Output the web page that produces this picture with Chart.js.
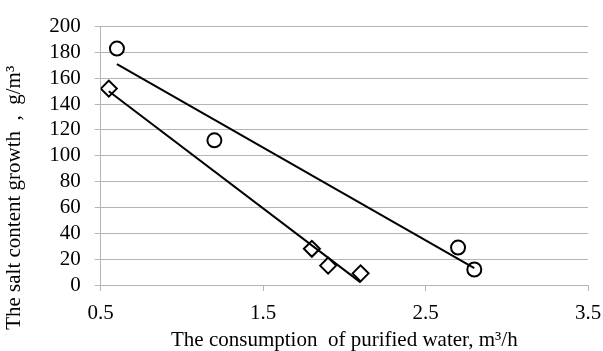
<!DOCTYPE html>
<html>
<head>
<meta charset="utf-8">
<script src="https://cdn.jsdelivr.net/npm/chart.js@4/dist/chart.umd.min.js"></script>
<style>
  body { margin: 0; background: #fff; }
  #wrap { width: 603px; height: 351px; }
</style>
</head>
<body>
<div id="wrap"><canvas id="chartSal"></canvas></div>
<script>
// Valores
const circuloX = [0.6, 1.2, 2.7, 2.8];
const circuloY = [183, 112, 29, 12];
const losangoX = [0.55, 1.8, 1.9, 2.1];
const losangoY = [152, 28, 15, 9];

// Linhas de tendência (extremos)
const tendCirculoX = [0.6, 2.8];
const tendCirculoY = [171, 13];
const tendLosangoX = [0.55, 2.1];
const tendLosangoY = [150, 2];

const xTicks = [0.5, 1.5, 2.5, 3.5];
const yMin = 0, yMax = 200, yStep = 20;

function pares(xs, ys) {
  return xs.map(function(x, i) { return { x: x, y: ys[i] }; });
}

const fonte = 'Liberation Serif, Times New Roman, serif';
const cinza = '#b4b4b4';

new Chart(document.getElementById('chartSal'), {
  type: 'scatter',
  data: {
    datasets: [
      {
        data: pares(tendCirculoX, tendCirculoY),
        showLine: true,
        borderColor: '#000',
        borderWidth: 2,
        pointRadius: 0
      },
      {
        data: pares(tendLosangoX, tendLosangoY),
        showLine: true,
        borderColor: '#000',
        borderWidth: 2,
        pointRadius: 0
      },
      {
        data: pares(circuloX, circuloY),
        pointStyle: 'circle',
        pointRadius: 7,
        borderWidth: 2,
        borderColor: '#000',
        backgroundColor: '#fff'
      },
      {
        data: pares(losangoX, losangoY),
        pointStyle: 'rectRot',
        pointRadius: 8,
        borderWidth: 2,
        borderColor: '#000',
        backgroundColor: '#fff'
      }
    ]
  },
  options: {
    responsive: true,
    maintainAspectRatio: false,
    animation: false,
    layout: { padding: { top: 7, right: 0, left: 2, bottom: 0 } },
    plugins: {
      legend: { display: false },
      tooltip: { enabled: false }
    },
    scales: {
      x: {
        type: 'linear',
        min: xTicks[0],
        max: xTicks[xTicks.length - 1],
        afterBuildTicks: function(axis) {
          axis.ticks = xTicks.map(function(v) { return { value: v }; });
        },
        afterFit: function(axis) {
          axis.height = 66;
          axis.paddingRight = 15;
        },
        grid: {
          drawOnChartArea: false,
          drawTicks: true,
          tickLength: 6,
          color: cinza
        },
        border: { color: cinza, width: 1 },
        ticks: {
          color: '#000',
          maxRotation: 0,
          font: { family: fonte, size: 21 },
          padding: 10,
          callback: function(v) { return v.toFixed(1); }
        },
        title: {
          display: true,
          text: 'The consumption  of purified water, m³/h',
          color: '#000',
          font: { family: fonte, size: 21, lineHeight: 1.0 },
          padding: { top: 0, bottom: 0 }
        }
      },
      y: {
        min: yMin,
        max: yMax,
        ticks: {
          stepSize: yStep,
          autoSkip: false,
          color: '#000',
          font: { family: fonte, size: 21 },
          padding: 14
        },
        grid: {
          color: cinza,
          tickLength: 6
        },
        border: { color: cinza, width: 1 },
        title: {
          display: true,
          text: 'The salt content growth  ,  g/m³                ',
          color: '#000',
          font: { family: fonte, size: 21 },
          padding: { top: 0, bottom: 8 }
        }
      }
    }
  }
});
</script>
</body>
</html>
